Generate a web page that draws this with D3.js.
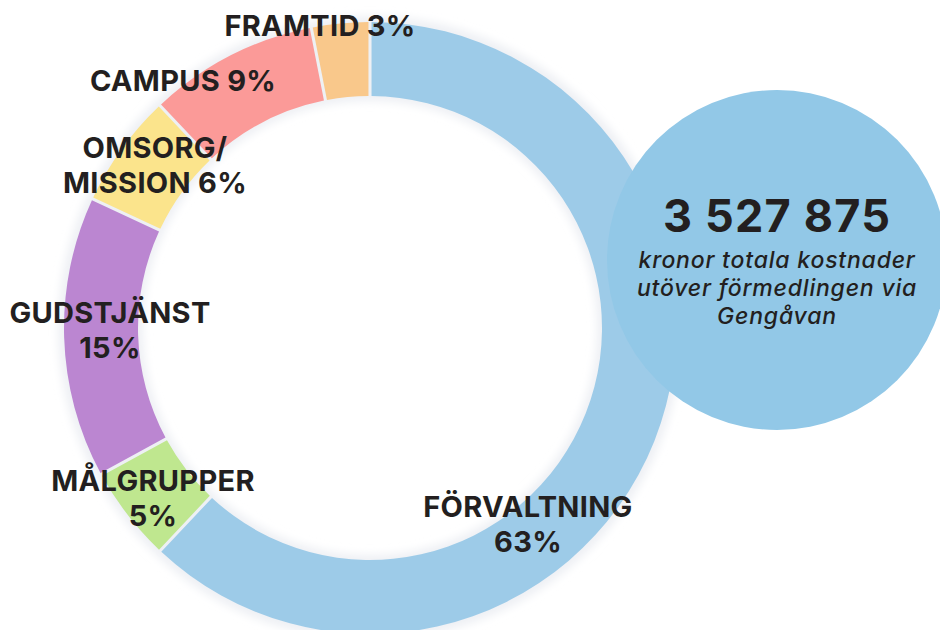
<!DOCTYPE html>
<html>
<head>
<meta charset="utf-8">
<script src="https://cdn.jsdelivr.net/npm/d3@7/dist/d3.min.js"></script>
<style>
  html, body { margin: 0; padding: 0; background: #ffffff; }
  svg { display: block; }
  text { font-family: Inter, "Open Sans", sans-serif; fill: #231f20; }
</style>
</head>
<body>
<svg id="chart" width="940" height="630"></svg>
<script>
// ---- data ----
const categories = ["FÖRVALTNING", "MÅLGRUPPER", "GUDSTJÄNST", "OMSORG/MISSION", "CAMPUS", "FRAMTID"];
const values = [63, 5, 15, 6, 9, 3];
const labelLines = [["FÖRVALTNING", "63%"], ["MÅLGRUPPER", "5%"], ["GUDSTJÄNST", "15%"], ["OMSORG/", "MISSION 6%"], ["CAMPUS 9%"], ["FRAMTID 3%"]];
const totalValue = "3 527 875";
const totalText = ["kronor totala kostnader", "utöver förmedlingen via", "Gengåvan"];

// ---- layout / style ----
const colors = ["#9dcbe8", "#bfe78f", "#bb86d1", "#fbe48c", "#fb9a98", "#f9c88b"];
const labelPos = [[528, 517], [153, 491], [110, 323], [155, 158], [183, 91], [320, 36]];
const cx = 370, cy = 328, rOuter = 306, rInner = 232;
const bubble = { x: 777, y: 260, r: 170, color: "#92c8e7" };

const svg = d3.select("#chart");
const defs = svg.append("defs");
const blur = defs.append("filter").attr("id", "halo").attr("x", "-20%").attr("y", "-20%").attr("width", "140%").attr("height", "140%");
blur.append("feGaussianBlur").attr("stdDeviation", 4);

const g = svg.append("g").attr("transform", `translate(${cx},${cy})`);

const pie = d3.pie().sort(null).value(d => d).startAngle(0).endAngle(2 * Math.PI).padAngle(0.008);
const arcs = pie(values);
const arc = d3.arc().innerRadius(rInner).outerRadius(rOuter);

// faint halo around ring
g.append("path")
  .attr("d", d3.arc().innerRadius(rInner - 5).outerRadius(rOuter + 6).startAngle(0).endAngle(2 * Math.PI)())
  .attr("fill", "#eef0f4")
  .attr("filter", "url(#halo)");

g.selectAll("path.slice")
  .data(arcs)
  .join("path")
  .attr("class", "slice")
  .attr("d", arc)
  .attr("fill", (d, i) => colors[i]);

// bubble
svg.append("circle")
  .attr("cx", bubble.x).attr("cy", bubble.y).attr("r", bubble.r)
  .attr("fill", bubble.color);

svg.append("text")
  .attr("x", bubble.x).attr("y", 232)
  .attr("text-anchor", "middle")
  .attr("font-size", 45).attr("font-weight", 700)
  .attr("letter-spacing", 1.2)
  .text(totalValue);

svg.append("g").selectAll("text")
  .data(totalText)
  .join("text")
  .attr("x", bubble.x)
  .attr("y", (d, i) => 268 + i * 28)
  .attr("text-anchor", "middle")
  .attr("font-size", 23)
  .attr("font-style", "italic")
  .attr("font-weight", 500)
  .attr("letter-spacing", 0.8)
  .text(d => d);

// labels
const lg = svg.append("g");
labelLines.forEach((lines, i) => {
  const t = lg.append("text")
    .attr("text-anchor", "middle")
    .attr("font-size", 29)
    .attr("font-weight", 700)
    .attr("letter-spacing", 0.3);
  lines.forEach((line, j) => {
    t.append("tspan")
      .attr("x", labelPos[i][0])
      .attr("y", labelPos[i][1] + j * 35)
      .text(line);
  });
});
</script>
</body>
</html>
